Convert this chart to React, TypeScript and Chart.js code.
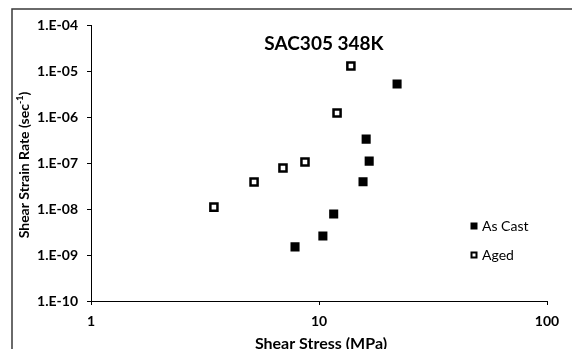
import React, { useEffect, useRef } from "react";
import { Chart, registerables } from "chart.js";

Chart.register(...registerables);

const asCastStress = [22.0, 16.1, 16.6, 15.6, 11.6, 10.4, 7.85];
const asCastRate = [5.2e-6, 3.3e-7, 1.1e-7, 3.9e-8, 7.8e-9, 2.6e-9, 1.5e-9];
const agedStress = [13.8, 12.0, 8.68, 6.95, 5.19, 3.46];
const agedRate = [1.28e-5, 1.22e-6, 1.05e-7, 7.8e-8, 3.86e-8, 1.1e-8];

const xTicks = [1, 10, 100];
const yTicks = [1e-10, 1e-9, 1e-8, 1e-7, 1e-6, 1e-5, 1e-4];
const yTickLabels = ["1.E-10", "1.E-09", "1.E-08", "1.E-07", "1.E-06", "1.E-05", "1.E-04"];
const seriesNames = ["As Cast", "Aged"];
const chartTitle = "SAC305 348K";
const xTitle = "Shear Stress (MPa)";
const yTitleMain = "Shear Strain Rate (sec";
const yTitleSup = "-1";
const yTitleEnd = ")";

const FONT = "Lato, 'Open Sans', sans-serif";

const decor = {
  id: "decor",
  beforeDraw(chart: any) {
    const ctx = chart.ctx;
    ctx.save();
    ctx.strokeStyle = "#3a3a3a";
    ctx.lineWidth = 1.5;
    ctx.beginPath();
    ctx.moveTo(12, 349);
    ctx.lineTo(12, 9);
    ctx.lineTo(572, 9);
    ctx.stroke();
    ctx.restore();
  },
  afterDraw(chart: any) {
    const ctx = chart.ctx;
    const a = chart.chartArea;
    ctx.save();
    ctx.fillStyle = "#000";
    // title
    ctx.font = `bold 19px ${FONT}`;
    ctx.textAlign = "center";
    ctx.textBaseline = "middle";
    ctx.fillText(chartTitle, (a.left + a.right) / 2 + 5, a.top + 19);
    // x title
    ctx.font = `bold 16px ${FONT}`;
    ctx.fillText(xTitle, (a.left + a.right) / 2 + 2, a.bottom + 43);
    // y title with superscript
    ctx.save();
    ctx.translate(24, (a.top + a.bottom) / 2 + 2);
    ctx.rotate(-Math.PI / 2);
    const mainF = `bold 14px ${FONT}`;
    const supF = `bold 9px ${FONT}`;
    ctx.font = mainF;
    const w1 = ctx.measureText(yTitleMain).width;
    const w3 = ctx.measureText(yTitleEnd).width;
    ctx.font = supF;
    const w2 = ctx.measureText(yTitleSup).width;
    let x = -(w1 + w2 + w3) / 2;
    ctx.textAlign = "left";
    ctx.font = mainF;
    ctx.fillText(yTitleMain, x, 0);
    x += w1;
    ctx.font = supF;
    ctx.fillText(yTitleSup, x, -4);
    x += w2;
    ctx.font = mainF;
    ctx.fillText(yTitleEnd, x, 0);
    ctx.restore();
    // legend
    const lx = a.right - 73;
    const ly = [a.top + 201, a.top + 230];
    chart.data.datasets.forEach((ds: any, i: number) => {
      const s = 7;
      if (ds.pointBackgroundColor === "#000000") {
        ctx.fillStyle = "#000";
        ctx.fillRect(lx - s / 2, ly[i] - s / 2, s, s);
      } else {
        ctx.strokeStyle = "#000";
        ctx.lineWidth = 2;
        ctx.strokeRect(lx - s / 2 + 1, ly[i] - s / 2 + 1, s - 2, s - 2);
      }
      ctx.fillStyle = "#000";
      ctx.font = `14px ${FONT}`;
      ctx.textAlign = "left";
      ctx.textBaseline = "middle";
      ctx.fillText(ds.label, lx + 8, ly[i]);
    });
    ctx.restore();
  },
};

export default function App() {
  const ref = useRef<HTMLCanvasElement>(null);
  useEffect(() => {
    if (!ref.current) return;
    const chart = new Chart(ref.current, {
      type: "scatter",
      data: {
        datasets: [
          {
            label: seriesNames[0],
            data: asCastStress.map((x, i) => ({ x, y: asCastRate[i] })),
            pointStyle: "rect",
            pointRadius: 5,
            pointBorderWidth: 2,
            pointBackgroundColor: "#000000",
            pointBorderColor: "#000000",
          },
          {
            label: seriesNames[1],
            data: agedStress.map((x, i) => ({ x, y: agedRate[i] })),
            pointStyle: "rect",
            pointRadius: 5,
            pointBorderWidth: 2.5,
            pointBackgroundColor: "#ffffff",
            pointBorderColor: "#000000",
          },
        ],
      },
      options: {
        responsive: false,
        animation: false,
        layout: { padding: { left: 0, top: 25, right: 25, bottom: 0 } },
        plugins: { legend: { display: false }, tooltip: { enabled: false }, title: { display: false } },
        scales: {
          x: {
            type: "logarithmic",
            min: 1,
            max: 100,
            afterBuildTicks: (s: any) => {
              s.ticks = xTicks.map((v) => ({ value: v }));
            },
            afterFit: (s: any) => {
              s.height = 48;
            },
            grid: { drawOnChartArea: false, drawTicks: true, tickLength: 4, color: "#000", lineWidth: 1 },
            border: { color: "#000", width: 1 },
            ticks: {
              color: "#000",
              font: { family: FONT, weight: "bold", size: 14 },
              padding: 8,
              maxRotation: 0,
              autoSkip: false,
              callback: (v: any) => String(v),
            },
          },
          y: {
            type: "logarithmic",
            min: 1e-10,
            max: 1e-4,
            afterBuildTicks: (s: any) => {
              s.ticks = yTicks.map((v) => ({ value: v }));
            },
            afterFit: (s: any) => {
              s.width = 91;
            },
            grid: { drawOnChartArea: false, drawTicks: true, tickLength: 4, color: "#000", lineWidth: 1 },
            border: { color: "#000", width: 1 },
            ticks: {
              color: "#000",
              font: { family: FONT, weight: "bold", size: 14 },
              padding: 9,
              autoSkip: false,
              callback: (v: any) => {
                const i = yTicks.findIndex((t) => Math.abs(Math.log10(t) - Math.log10(v)) < 1e-6);
                return i >= 0 ? yTickLabels[i] : "";
              },
            },
          },
        },
      },
      plugins: [decor],
    });
    return () => chart.destroy();
  }, []);
  return (
    <div style={{ position: "absolute", left: 0, top: 0, width: 572, height: 349, background: "#fff" }}>
      <canvas ref={ref} width={572} height={349} />
    </div>
  );
}
